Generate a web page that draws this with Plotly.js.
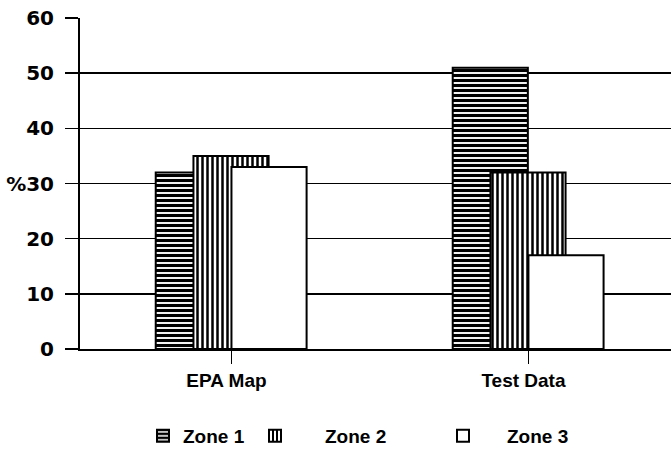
<!DOCTYPE html>
<html>
<head>
<meta charset="utf-8">
<script src="https://cdn.plot.ly/plotly-3.0.1.min.js"></script>
<style>html,body{margin:0;padding:0;background:#fff;}#chart{width:671px;height:460px;}</style>
</head>
<body>
<div id="chart"></div>
<script>
const categories = ["EPA Map", "Test Data"];
const seriesNames = ["Zone 1", "Zone 2", "Zone 3"];
const zone1 = [32, 51];
const zone2 = [35, 32];
const zone3 = [33, 17];
const yTickVals = [0, 10, 20, 30, 40, 50, 60];
const yTickText = ["0", "10", "20", "%30", "40", "50", "60"];

const barWidth = 0.253;
const offsets = [-0.255, -0.128, 0.0];
const patterns = [
  {shape: "-", fgcolor: "#000", bgcolor: "#fff", size: 5, solidity: 0.62, fillmode: "replace"},
  {shape: "|", fgcolor: "#000", bgcolor: "#fff", size: 5, solidity: 0.5, fillmode: "replace"},
  {shape: "", fgcolor: "#000", bgcolor: "#fff"}
];
const seriesValues = [zone1, zone2, zone3];
const legendIds = ["legend", "legend2", "legend3"];

const traces = seriesValues.map((vals, i) => ({
  type: "bar",
  name: seriesNames[i],
  x: [0, 1],
  y: vals,
  width: barWidth,
  offset: offsets[i],
  legend: legendIds[i],
  marker: {
    color: "#fff",
    pattern: patterns[i],
    line: {color: "#000", width: 2}
  },
  hoverinfo: "skip"
}));

const legendFont = {size: 19, family: "Liberation Sans, Arial, sans-serif", weight: "bold", color: "#000"};
function mkLegend(xpx, itemw) {
  return {
    orientation: "h",
    xref: "container",
    yref: "container",
    x: xpx / 671,
    y: 24 / 460,
    xanchor: "left",
    yanchor: "middle",
    itemwidth: itemw,
    bgcolor: "rgba(0,0,0,0)",
    font: legendFont
  };
}

const layout = {
  width: 671,
  height: 460,
  margin: {l: 80, r: 0, t: 18, b: 111},
  paper_bgcolor: "#fff",
  plot_bgcolor: "#fff",
  barmode: "overlay",
  showlegend: true,
  font: {family: "Liberation Sans, Arial, sans-serif", color: "#000"},
  xaxis: {
    range: [-0.51, 1.48],
    tickvals: [0, 1],
    ticktext: categories,
    ticks: "outside",
    ticklen: 13,
    tickwidth: 1.5,
    tickcolor: "#000",
    ticklabelshift: -5,
    showline: true,
    linecolor: "#000",
    linewidth: 2,
    showgrid: false,
    zeroline: false,
    tickfont: {size: 19, family: "Liberation Sans, Arial, sans-serif", weight: "bold", color: "#000"}
  },
  yaxis: {
    range: [0, 60],
    tickvals: yTickVals,
    ticktext: yTickText,
    ticks: "outside",
    ticklen: 13,
    tickwidth: 1.5,
    tickcolor: "#000",
    ticklabelstandoff: 7,
    showline: true,
    linecolor: "#000",
    linewidth: 2,
    showgrid: true,
    gridcolor: "#000",
    gridwidth: 1.5,
    zeroline: false,
    tickfont: {size: 20, family: "DejaVu Sans, sans-serif", weight: "bold", color: "#000"}
  },
  legend: mkLegend(143, 30),
  legend2: mkLegend(225, 90),
  legend3: mkLegend(419, 78)
};

Plotly.newPlot("chart", traces, layout, {displayModeBar: false, staticPlot: true});
</script>
</body>
</html>
